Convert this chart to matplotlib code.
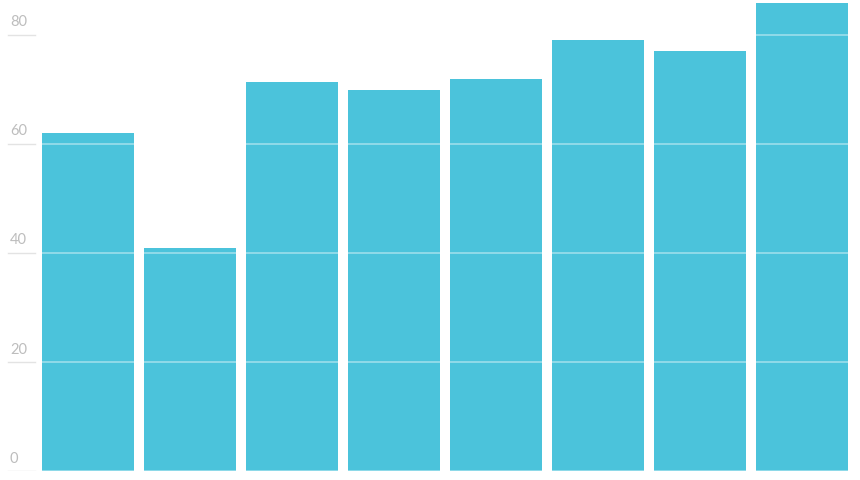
import numpy as np
import matplotlib.pyplot as plt

# bar heights
values = [62.0, 40.9, 71.4, 69.9, 71.9, 79.1, 77.1, 85.9]
yticks = [0, 20, 40, 60, 80]

bar_color = '#4bc3db'
label_color = '#bdbdbd'

fig = plt.figure(figsize=(8.6, 4.8), dpi=100)
ax = fig.add_axes([0, 9 / 480, 1, 471 / 480])

x = np.arange(len(values))
ax.bar(x, values, width=0.9, color=bar_color, zorder=1)

ax.set_xlim(-0.863, 7.569)
ax.set_ylim(0, 86.4)

# grid: white lines over the bars, short grey rule under each label
for t in yticks:
    ax.axhline(t, color='white', alpha=0.45, lw=1.2, zorder=2)
    ax.axhline(t, xmin=8 / 860, xmax=35 / 860, color='#e3e3e3', lw=1, zorder=2)
    ax.text(10 / 860, t + 1.0, str(t), transform=ax.get_yaxis_transform(),
            color=label_color, fontsize=10.5, ha='left', va='bottom',
            family='Lato')

ax.set_xticks([])
ax.set_yticks([])
for s in ax.spines.values():
    s.set_visible(False)

fig.savefig('out.png', dpi=100)
